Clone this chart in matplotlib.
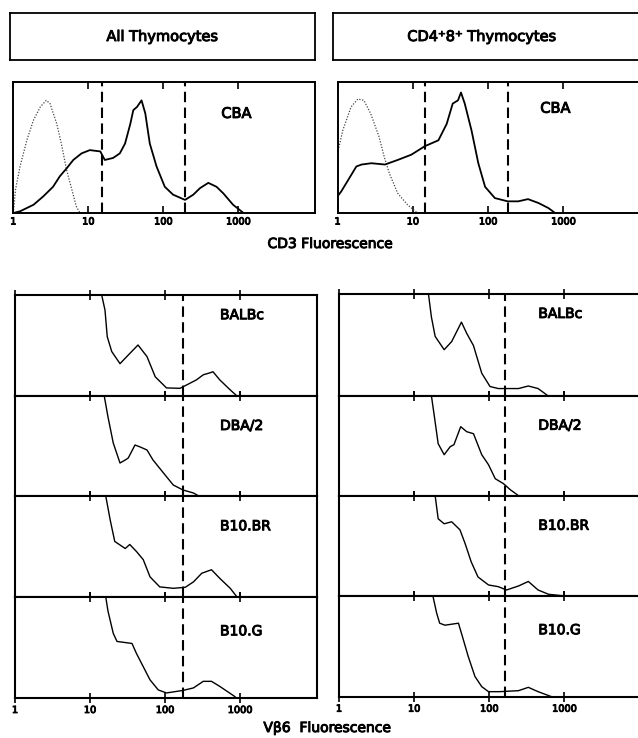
import numpy as np
import matplotlib
matplotlib.use("Agg")
import matplotlib.pyplot as plt
import matplotlib.patheffects as pe
from matplotlib.ticker import FixedLocator, FixedFormatter, NullLocator

# ---------------- data (x in log10 fluorescence, y as fraction of panel height) -------------
column_titles = ["All Thymocytes", "CD4\u207a8\u207a Thymocytes"]
strains = ["BALBc", "DBA/2", "B10.BR", "B10.G"]
tick_values = [1, 10, 100, 1000]
tick_labels = ["1", "10", "100", "1000"]

# CD3 histograms, CBA
cd3_all_x = [0, 0.09, 0.27, 0.40, 0.53, 0.62, 0.71, 0.80, 0.91, 1.02, 1.16, 1.22, 1.33, 1.42,
             1.49, 1.56, 1.60, 1.65, 1.71, 1.76, 1.82, 1.91, 2.02, 2.13, 2.29, 2.40, 2.49,
             2.60, 2.71, 2.80, 2.93, 3.07]
cd3_all_y = [0, 0.013, 0.063, 0.127, 0.20, 0.28, 0.34, 0.405, 0.455, 0.48, 0.47, 0.405, 0.42,
             0.455, 0.53, 0.68, 0.785, 0.81, 0.86, 0.76, 0.53, 0.355, 0.20, 0.14, 0.10, 0.14,
             0.19, 0.23, 0.20, 0.15, 0.063, 0]
ctrl_all_x = [0, 0.03, 0.09, 0.18, 0.27, 0.36, 0.44, 0.49, 0.58, 0.64, 0.71, 0.78, 0.84, 0.89]
ctrl_all_y = [0, 0.18, 0.355, 0.555, 0.71, 0.81, 0.86, 0.835, 0.68, 0.53, 0.33, 0.18, 0.05, 0]

cd3_dp_x = [0, 0.05, 0.14, 0.25, 0.32, 0.45, 0.63, 0.80, 0.98, 1.16, 1.34, 1.45, 1.53, 1.60,
            1.64, 1.69, 1.78, 1.87, 1.96, 2.09, 2.26, 2.40, 2.53, 2.67, 2.80, 2.89]
cd3_dp_y = [0.127, 0.165, 0.25, 0.355, 0.37, 0.38, 0.37, 0.405, 0.445, 0.51, 0.555, 0.68,
            0.835, 0.86, 0.92, 0.835, 0.63, 0.38, 0.20, 0.114, 0.089, 0.089, 0.106, 0.076,
            0.038, 0]
ctrl_dp_x = [0, 0.07, 0.18, 0.27, 0.35, 0.44, 0.55, 0.62, 0.69, 0.80, 0.93, 1.06]
ctrl_dp_y = [0.455, 0.63, 0.81, 0.87, 0.86, 0.76, 0.585, 0.43, 0.30, 0.15, 0.063, 0]

cd3_gates_all = [15.1, 195]
cd3_gates_dp = [14.7, 182]

# Vbeta6 histograms, all thymocytes
vb6_all_balbc_x = [1.156, 1.20, 1.23, 1.29, 1.40, 1.49, 1.64, 1.76, 1.87, 2.02, 2.20, 2.29,
                   2.42, 2.51, 2.58, 2.64, 2.73, 2.87, 2.96]
vb6_all_balbc_y = [1.0, 0.85, 0.587, 0.44, 0.32, 0.39, 0.505, 0.39, 0.19, 0.08, 0.076, 0.11,
                   0.16, 0.21, 0.225, 0.24, 0.16, 0.06, 0.0]
vb6_all_dba_x = [1.19, 1.24, 1.31, 1.40, 1.47, 1.51, 1.60, 1.67, 1.76, 1.84, 1.98, 2.11, 2.24,
                 2.38, 2.45]
vb6_all_dba_y = [1.0, 0.79, 0.53, 0.33, 0.36, 0.38, 0.51, 0.49, 0.46, 0.36, 0.23, 0.11, 0.06,
                 0.03, 0.0]
vb6_all_b10br_x = [1.21, 1.27, 1.33, 1.47, 1.53, 1.62, 1.71, 1.80, 1.93, 2.11, 2.27, 2.38,
                   2.49, 2.62, 2.73, 2.87, 2.96]
vb6_all_b10br_y = [1.0, 0.76, 0.55, 0.48, 0.52, 0.45, 0.37, 0.20, 0.10, 0.086, 0.096, 0.15,
                   0.235, 0.27, 0.185, 0.086, 0.0]
vb6_all_b10g_x = [1.21, 1.24, 1.31, 1.36, 1.56, 1.62, 1.71, 1.80, 1.91, 2.02, 2.24, 2.38,
                  2.51, 2.62, 2.73, 2.93, 2.95]
vb6_all_b10g_y = [1.0, 0.86, 0.64, 0.56, 0.54, 0.44, 0.31, 0.18, 0.08, 0.05, 0.075, 0.10,
                  0.165, 0.165, 0.115, 0.015, 0.0]

# Vbeta6 histograms, CD4+8+ thymocytes
vb6_dp_balbc_x = [1.19, 1.23, 1.28, 1.40, 1.50, 1.63, 1.70, 1.79, 1.90, 2.01, 2.12, 2.39,
                  2.52, 2.65, 2.78]
vb6_dp_balbc_y = [1.0, 0.77, 0.58, 0.45, 0.53, 0.72, 0.61, 0.49, 0.22, 0.09, 0.07, 0.07,
                  0.095, 0.07, 0.0]
vb6_dp_dba_x = [1.23, 1.27, 1.32, 1.40, 1.48, 1.53, 1.62, 1.70, 1.79, 1.90, 1.99, 2.08, 2.19,
                2.28, 2.39]
vb6_dp_dba_y = [1.0, 0.79, 0.52, 0.41, 0.49, 0.51, 0.69, 0.64, 0.62, 0.41, 0.31, 0.17, 0.12,
                0.06, 0.0]
vb6_dp_b10br_x = [1.28, 1.32, 1.40, 1.50, 1.61, 1.68, 1.76, 1.85, 1.99, 2.12, 2.23, 2.39,
                  2.52, 2.65, 2.79, 3.01]
vb6_dp_b10br_y = [1.0, 0.77, 0.72, 0.74, 0.66, 0.52, 0.34, 0.19, 0.11, 0.093, 0.06, 0.10,
                  0.145, 0.06, 0.017, 0.0]
vb6_dp_b10g_x = [1.25, 1.30, 1.34, 1.41, 1.59, 1.63, 1.72, 1.81, 1.90, 1.99, 2.14, 2.39,
                 2.52, 2.65, 2.83]
vb6_dp_b10g_y = [1.0, 0.83, 0.73, 0.71, 0.73, 0.63, 0.40, 0.20, 0.10, 0.05, 0.05, 0.06,
                 0.093, 0.05, 0.0]

vb6_gate_all = 174
vb6_gate_dp = 163

vb6_all = [(vb6_all_balbc_x, vb6_all_balbc_y), (vb6_all_dba_x, vb6_all_dba_y),
           (vb6_all_b10br_x, vb6_all_b10br_y), (vb6_all_b10g_x, vb6_all_b10g_y)]
vb6_dp = [(vb6_dp_balbc_x, vb6_dp_balbc_y), (vb6_dp_dba_x, vb6_dp_dba_y),
          (vb6_dp_b10br_x, vb6_dp_b10br_y), (vb6_dp_b10g_x, vb6_dp_b10g_y)]

# ---------------- layout ----------------
W, H = 638, 738
fig = plt.figure(figsize=(W / 100, H / 100), dpi=100)
plt.rcParams['font.family'] = ['DejaVu Sans']
heavy = [pe.withStroke(linewidth=0.7, foreground='black')]
XMAX = 10 ** 4.02


def ax_px(x0, y0, x1, y1):
    return fig.add_axes([x0 / W, 1 - y1 / H, (x1 - x0) / W, (y1 - y0) / H])


def style_frame(ax, lw=1.4):
    for s in ax.spines.values():
        s.set_linewidth(lw)
        s.set_color('black')


def setup_log(ax, show_labels):
    ax.set_xscale('log')
    ax.set_xlim(1, XMAX)
    ax.set_ylim(0, 1)
    ax.xaxis.set_major_locator(FixedLocator(tick_values))
    ax.xaxis.set_minor_locator(NullLocator())
    ax.xaxis.set_major_formatter(FixedFormatter(tick_labels))
    ax.set_yticks([])
    if show_labels:
        for lbl in ax.get_xticklabels():
            lbl.set_path_effects(heavy)


def gate(ax, xv, lw=1.5):
    ax.axvline(xv, color='black', lw=lw, dashes=(5, 2.6))


# Title boxes
for (x0, x1), title in zip([(10, 315), (333, 645)], column_titles):
    tax = ax_px(x0, 13, x1, 60)
    tax.set_xticks([]); tax.set_yticks([])
    style_frame(tax, 1.3)
    tx = 0.5 if x1 < 640 else (482 - x0) / (x1 - x0)
    tax.text(tx, 0.5, title, ha='center', va='center', fontsize=10.5,
             transform=tax.transAxes, path_effects=heavy)

# Top CD3 panels
top_specs = [
    (13.3, 314.8, cd3_all_x, cd3_all_y, ctrl_all_x, ctrl_all_y, cd3_gates_all, (0.69, 0.76)),
    (337.5, 640.2, cd3_dp_x, cd3_dp_y, ctrl_dp_x, ctrl_dp_y, cd3_gates_dp, (0.67, 0.80)),
]
for x0, x1, sx, sy, cx, cy, gates, lpos in top_specs:
    ax = ax_px(x0, 82, x1, 213)
    setup_log(ax, True)
    style_frame(ax)
    ax.tick_params(axis='x', which='major', direction='in', length=5, width=1.2,
                   top=True, bottom=True, labelsize=7, pad=2.5)
    ax.plot(10 ** np.array(cx), cy, color='#444444', lw=0.9, ls=(0, (1, 1.3)))
    ax.plot(10 ** np.array(sx), sy, color='black', lw=1.3)
    for g in gates:
        gate(ax, g)
    ax.text(lpos[0], lpos[1], "CBA", transform=ax.transAxes, ha='left', va='center',
            fontsize=10.5, path_effects=heavy)

fig.text(330 / W, 1 - 244 / H, "CD3 Fluorescence", ha='center', va='center',
         fontsize=10, path_effects=heavy)

# Bottom Vbeta6 panels
label_y = [0.80, 0.70, 0.70, 0.66]
bottom_specs = [
    (15.0, 316.5, [295, 396, 496, 597, 698], vb6_all, vb6_gate_all, 0.68),
    (339.0, 641.0, [293.5, 395.7, 495.7, 596, 696.7], vb6_dp, vb6_gate_dp, 0.66),
]
for x0, x1, bounds, series, g, lx in bottom_specs:
    for i, (name, (vx, vy)) in enumerate(zip(strains, series)):
        last = i == len(strains) - 1
        ax = ax_px(x0, bounds[i], x1, bounds[i + 1])
        setup_log(ax, last)
        style_frame(ax, 1.5)
        ax.tick_params(axis='x', which='major', direction='inout', length=7, width=1.2,
                       top=True, bottom=True, labelbottom=last, labelsize=7, pad=1.5)
        ax.plot(10 ** np.array(vx), vy, color='black', lw=1.0)
        gate(ax, g)
        ax.text(lx, label_y[i], name, transform=ax.transAxes, ha='left', va='center',
                fontsize=10, path_effects=heavy)

fig.text(327 / W, 1 - 728 / H, "V\u03b26  Fluorescence", ha='center', va='center',
         fontsize=10, path_effects=heavy)

fig.savefig("out.png", dpi=100)
